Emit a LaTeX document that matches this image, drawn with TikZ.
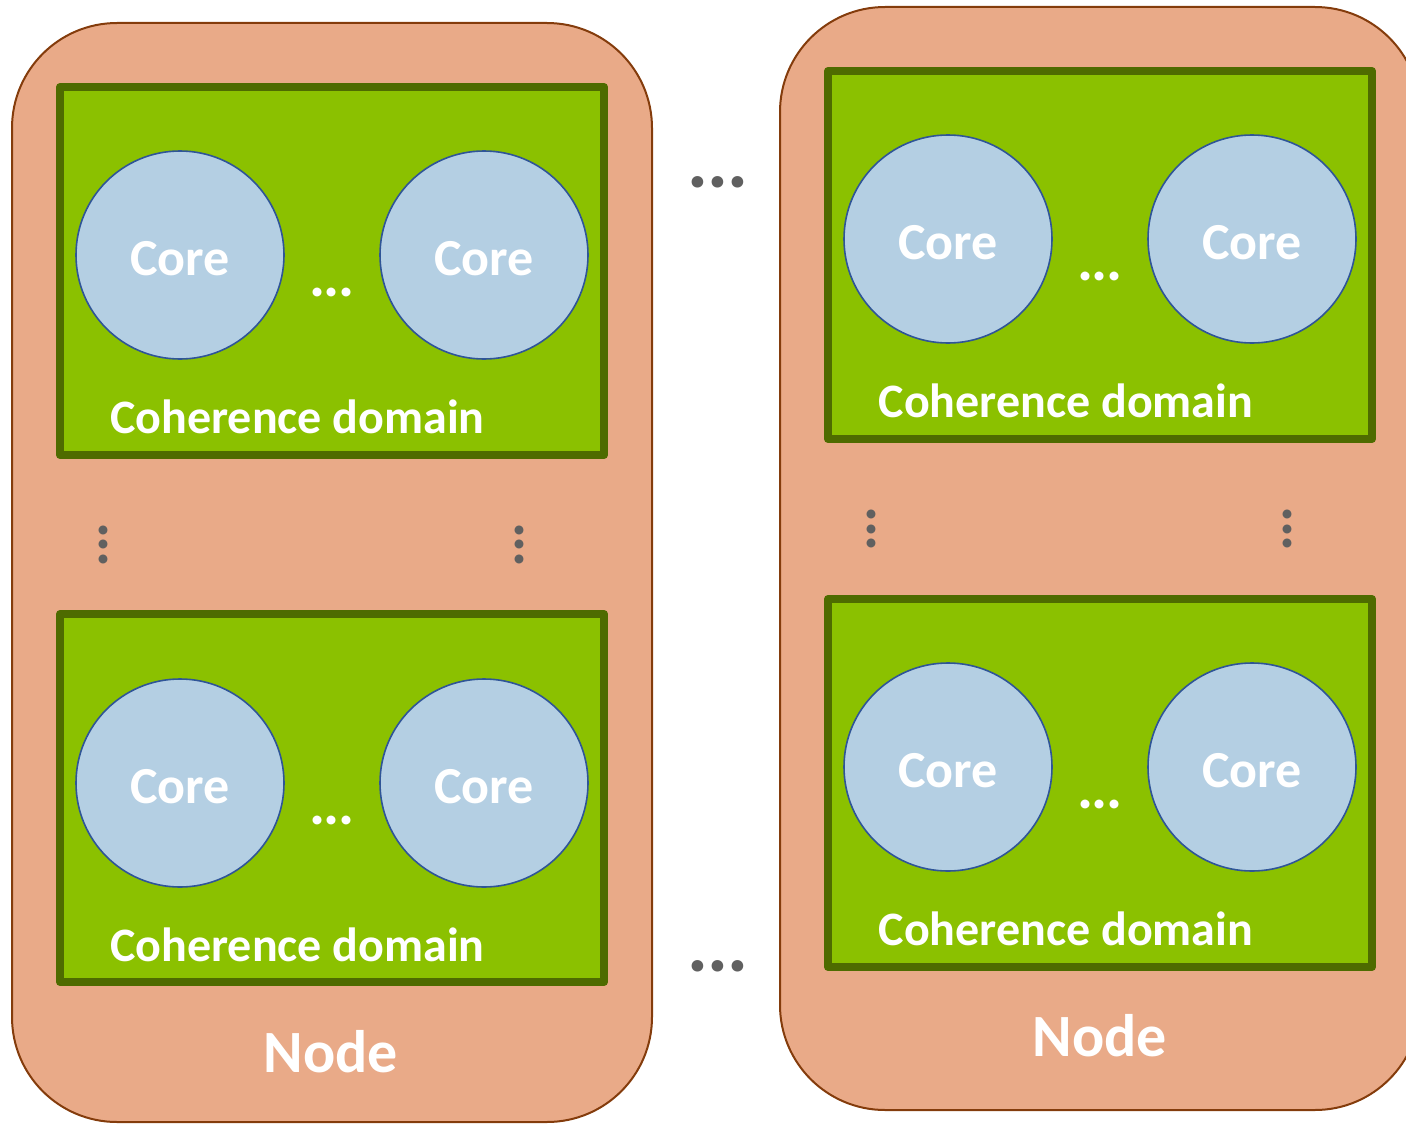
\documentclass[tikz,border=0pt]{standalone}
\usepackage{fontspec}
\setmainfont{Carlito}
\definecolor{nodefill}{HTML}{E9AA88}
\definecolor{nodeline}{HTML}{843C0C}
\definecolor{domfill}{HTML}{8BC100}
\definecolor{domline}{HTML}{4E6B00}
\definecolor{corefill}{HTML}{B4CFE3}
\definecolor{coreline}{HTML}{2F5597}
\definecolor{dotgray}{HTML}{606060}
% three tightly set periods
\newcommand{\tightdots}[1]{.\kern#1.\kern#1.}
\tikzset{
  hostbox/.style={draw=nodeline, fill=nodefill, line width=2pt,
    rounded corners=105pt, minimum width=640pt, inner sep=0pt},
  domainbox/.style={draw=domline, fill=domfill, line width=8pt, line join=round,
    minimum width=544pt, minimum height=368pt, inner sep=0pt},
  corecircle/.style={circle, draw=coreline, fill=corefill, line width=1.6pt,
    minimum size=208pt, inner sep=0pt, text=white,
    font=\fontsize{52}{52}\selectfont\bfseries, text height=40pt, text depth=0pt},
  domlabel/.style={anchor=base, inner sep=0pt, text=white,
    font=\fontsize{48}{48}\selectfont\bfseries},
  hostlabel/.style={anchor=base, inner sep=0pt, text=white,
    font=\fontsize{60}{60}\selectfont\bfseries},
  whitedots/.style={inner sep=0pt, text=white,
    font=\fontsize{60}{60}\selectfont\bfseries},
  graydots/.style={inner sep=0pt, text=dotgray,
    font=\fontsize{78}{78}\selectfont\bfseries},
  vdots/.style={inner sep=0pt, text=dotgray, rotate=90,
    font=\fontsize{60}{60}\selectfont\bfseries},
}
\begin{document}
\begin{tikzpicture}[x=1pt, y=-1pt]
\useasboundingbox (0,0) rectangle (1406,1124);

% two hosts
\node[hostbox, minimum height=1099pt] (hostA) at (332,572.5) {};
\node[hostbox, minimum height=1103pt] (hostB) at (1100,558.5) {};

% coherence domains
\node[domainbox] (domA1) at (332,271) {};
\node[domainbox] (domA2) at (332,798) {};
\node[domainbox] (domB1) at (1100,255) {};
\node[domainbox] (domB2) at (1100,783) {};

% cores
\node[corecircle] (coreA1a) at (180,255) {Core};
\node[corecircle] (coreA1b) at (484,255) {Core};
\node[corecircle] (coreA2a) at (180,783) {Core};
\node[corecircle] (coreA2b) at (484,783) {Core};
\node[corecircle] (coreB1a) at (948,239) {Core};
\node[corecircle] (coreB1b) at (1252,239) {Core};
\node[corecircle] (coreB2a) at (948,767) {Core};
\node[corecircle] (coreB2b) at (1252,767) {Core};

% ellipses between cores
\node[whitedots] (ellA1) at (332,292) {\tightdots{-1.5pt}};
\node[whitedots] (ellA2) at (332,820) {\tightdots{-1.5pt}};
\node[whitedots] (ellB1) at (1100,276) {\tightdots{-1.5pt}};
\node[whitedots] (ellB2) at (1100,804) {\tightdots{-1.5pt}};

% domain labels
\node[domlabel] (labA1) at (297.5,433) {Coherence domain};
\node[domlabel] (labA2) at (297.5,961) {Coherence domain};
\node[domlabel] (labB1) at (1066,417) {Coherence domain};
\node[domlabel] (labB2) at (1066,945) {Coherence domain};

% host labels
\node[hostlabel] (labA) at (331,1072) {Node};
\node[hostlabel] (labB) at (1100,1056) {Node};

% vertical ellipses between domains
\node[vdots] (vA1) at (103.5,544.5) {\tightdots{-1.5pt}};
\node[vdots] (vA2) at (519.5,544.5) {\tightdots{-1.5pt}};
\node[vdots] (vB1) at (871.7,529) {\tightdots{-1.5pt}};
\node[vdots] (vB2) at (1287.7,529) {\tightdots{-1.5pt}};

% ellipses between hosts
\node[graydots] (gapTop) at (717.5,182) {\tightdots{-0.8pt}};
\node[graydots] (gapBot) at (717.5,966) {\tightdots{-0.8pt}};
\end{tikzpicture}
\end{document}
